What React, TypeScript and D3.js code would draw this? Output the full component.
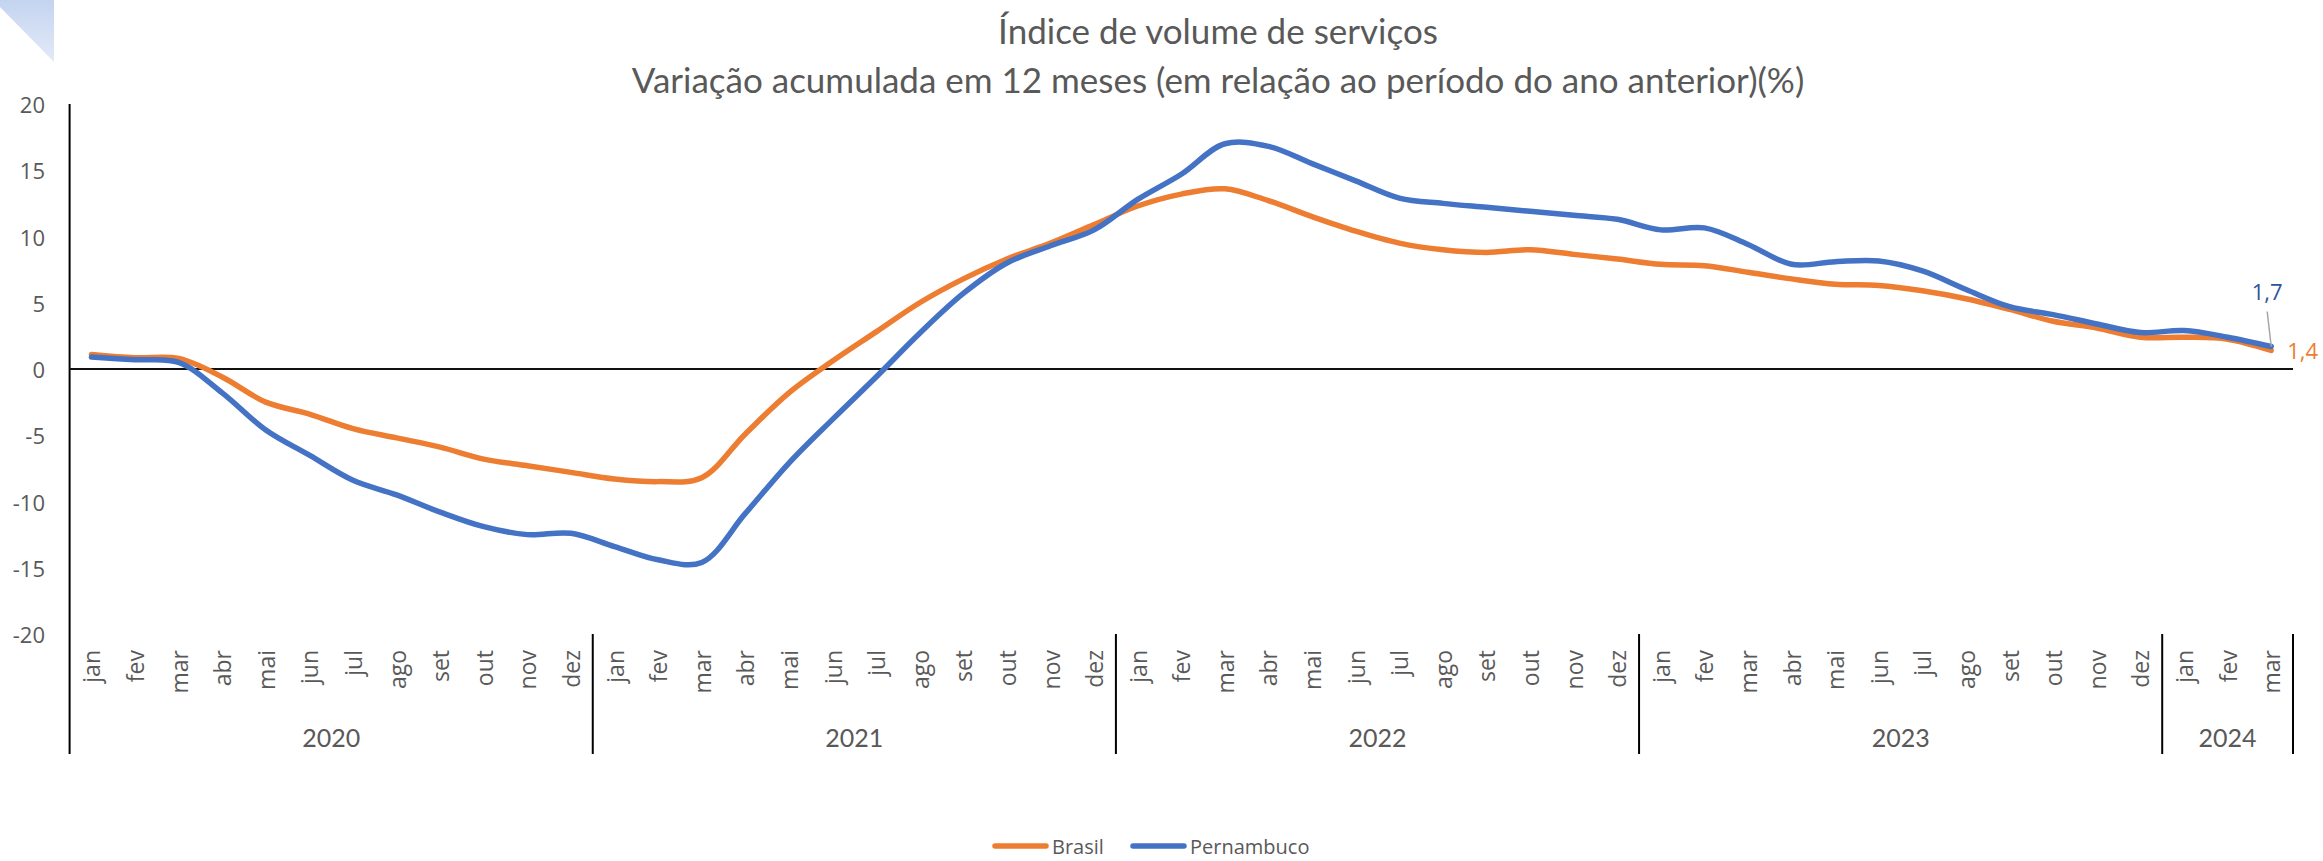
import { scaleBand, scaleLinear, line, curveCatmullRom, formatLocale } from "d3";

const months = ["jan", "fev", "mar", "abr", "mai", "jun", "jul", "ago", "set", "out", "nov", "dez"];
const years = [
  { year: "2020", count: 12 },
  { year: "2021", count: 12 },
  { year: "2022", count: 12 },
  { year: "2023", count: 12 },
  { year: "2024", count: 3 },
];

// variação acumulada em 12 meses (%), jan/2020 .. mar/2024
const brasil = [
  1.1, 0.85, 0.8, -0.6, -2.5, -3.4, -4.5, -5.2, -5.9, -6.8, -7.3, -7.8,
  -8.3, -8.5, -8.2, -4.9, -1.8, 0.6, 2.8, 5.0, 6.8, 8.3, 9.5, 10.9,
  12.3, 13.2, 13.6, 12.7, 11.5, 10.4, 9.5, 9.0, 8.8, 9.0, 8.65, 8.3,
  7.9, 7.8, 7.3, 6.8, 6.4, 6.3, 5.9, 5.3, 4.5, 3.6, 3.1, 2.4,
  2.4, 2.25, 1.4,
];
const pernambuco = [
  0.9, 0.7, 0.5, -1.8, -4.6, -6.5, -8.4, -9.5, -10.8, -11.9, -12.5, -12.4,
  -13.4, -14.4, -14.6, -10.9, -7.1, -3.8, -0.6, 2.7, 5.7, 8.0, 9.3, 10.5,
  12.8, 14.7, 17.0, 16.8, 15.5, 14.2, 12.9, 12.5, 12.2, 11.9, 11.6, 11.3,
  10.5, 10.65, 9.4, 7.9, 8.1, 8.15, 7.4, 6.0, 4.7, 4.1, 3.4, 2.75,
  2.9, 2.4, 1.7,
];

const seriesNames = ["Brasil", "Pernambuco"];
const colors = ["#ED7D31", "#4472C4"];

const ptBR = formatLocale({ decimal: ",", thousands: ".", grouping: [3], currency: ["R$", ""] });
const formatLabel = ptBR.format(".1f");

const svgWidth = 2323;
const svgHeight = 861;
const plot = { left: 69.6, right: 2293, top: 104, bottom: 634 };
const monthLabelTop = 650;
const yearLabelY = 737;
const axisBottom = 754;
const textColor = "#595959";

const App = () => {
  const monthLabels = years.flatMap((y) => months.slice(0, y.count));
  const idx = monthLabels.map((_, i) => i);

  const xScale = scaleBand<number>().domain(idx).range([plot.left, plot.right]).padding(0);
  const xMid = (i: number) => xScale(i)! + xScale.bandwidth() / 2;

  const yScale = scaleLinear().domain([-20, 20]).range([plot.bottom, plot.top]);

  const lineGen = line<number>()
    .x((_, i) => xMid(i))
    .y((d) => yScale(d))
    .curve(curveCatmullRom);

  let start = 0;
  const yearGroups = years.map((y) => {
    const g = { ...y, start };
    start += y.count;
    return g;
  });

  const last = idx.length - 1;
  const lastX = xMid(last);

  return (
    <>
      <style>{"body{margin:0;overflow:hidden}"}</style>
      <svg width={svgWidth} height={svgHeight} style={{ display: "block", background: "#fff" }}>
        <defs>
          <linearGradient id="corner" x1="0" y1="0" x2="0" y2="1">
            <stop offset="0" stopColor="#c4d4f0" />
            <stop offset="1" stopColor="#e2eaf7" />
          </linearGradient>
        </defs>
        <polygon points="0,0 54,0 54,62 0,7" fill="url(#corner)" />

        {/* title */}
        <g fontFamily="Lato, 'Open Sans', sans-serif" fill={textColor} textAnchor="middle">
          <text x={1218} y={30} fontSize={35} dominantBaseline="central">
            Índice de volume de serviços
          </text>
          <text x={1218} y={79} fontSize={35} dominantBaseline="central">
            Variação acumulada em 12 meses (em relação ao período do ano anterior)(%)
          </text>
        </g>

        {/* y axis */}
        <line x1={plot.left} x2={plot.left} y1={plot.top} y2={axisBottom} stroke="#000" strokeWidth={2} />
        {yScale.ticks(8).map((t) => (
          <text
            key={t}
            x={45}
            y={yScale(t)}
            textAnchor="end"
            dominantBaseline="central"
            fontFamily="'Open Sans', sans-serif"
            fontSize={22}
            fill={textColor}
          >
            {t}
          </text>
        ))}

        {/* zero line */}
        <line x1={plot.left} x2={plot.right} y1={yScale(0)} y2={yScale(0)} stroke="#111" strokeWidth={2.2} />

        {/* category axis: months and years */}
        {monthLabels.map((m, i) => (
          <text
            key={i}
            transform={`translate(${xMid(i)},${monthLabelTop}) rotate(-90)`}
            textAnchor="end"
            dominantBaseline="central"
            fontFamily="'Open Sans', sans-serif"
            fontSize={23}
            fill={textColor}
          >
            {m}
          </text>
        ))}
        {yearGroups.map((g) => {
          const x0 = xScale(g.start)!;
          const x1 = xScale(g.start + g.count - 1)! + xScale.bandwidth();
          return (
            <g key={g.year}>
              {g.start > 0 && (
                <line x1={x0} x2={x0} y1={plot.bottom} y2={axisBottom} stroke="#000" strokeWidth={2} />
              )}
              <text
                x={(x0 + x1) / 2}
                y={yearLabelY}
                textAnchor="middle"
                dominantBaseline="central"
                fontFamily="Lato, sans-serif"
                fontSize={25}
                fill={textColor}
              >
                {g.year}
              </text>
            </g>
          );
        })}
        <line x1={plot.right} x2={plot.right} y1={plot.bottom} y2={axisBottom} stroke="#000" strokeWidth={2} />

        {/* series */}
        {[brasil, pernambuco].map((s, k) => (
          <path
            key={seriesNames[k]}
            d={lineGen(s) || ""}
            fill="none"
            stroke={colors[k]}
            strokeWidth={5.5}
            strokeLinejoin="round"
            strokeLinecap="round"
          />
        ))}

        {/* end labels */}
        <line
          x1={lastX - 4}
          y1={yScale(pernambuco[last]) - 35}
          x2={lastX}
          y2={yScale(pernambuco[last])}
          stroke="#a6a6a6"
          strokeWidth={1.5}
        />
        <text
          x={lastX - 4}
          y={yScale(pernambuco[last]) - 55}
          textAnchor="middle"
          dominantBaseline="central"
          fontFamily="'Open Sans', sans-serif"
          fontSize={22}
          fill="#2F5597"
        >
          {formatLabel(pernambuco[last])}
        </text>
        <text
          x={lastX + 16}
          y={yScale(brasil[last])}
          dominantBaseline="central"
          fontFamily="'Open Sans', sans-serif"
          fontSize={22}
          fill={colors[0]}
        >
          {formatLabel(brasil[last])}
        </text>

        {/* legend */}
        <g fontFamily="'Open Sans', sans-serif" fontSize={20} fill={textColor}>
          <line x1={995} x2={1046} y1={846} y2={846} stroke={colors[0]} strokeWidth={5.5} strokeLinecap="round" />
          <text x={1052} y={846} dominantBaseline="central">
            {seriesNames[0]}
          </text>
          <line x1={1133} x2={1184} y1={846} y2={846} stroke={colors[1]} strokeWidth={5.5} strokeLinecap="round" />
          <text x={1190} y={846} dominantBaseline="central">
            {seriesNames[1]}
          </text>
        </g>
      </svg>
    </>
  );
};

export default App;
